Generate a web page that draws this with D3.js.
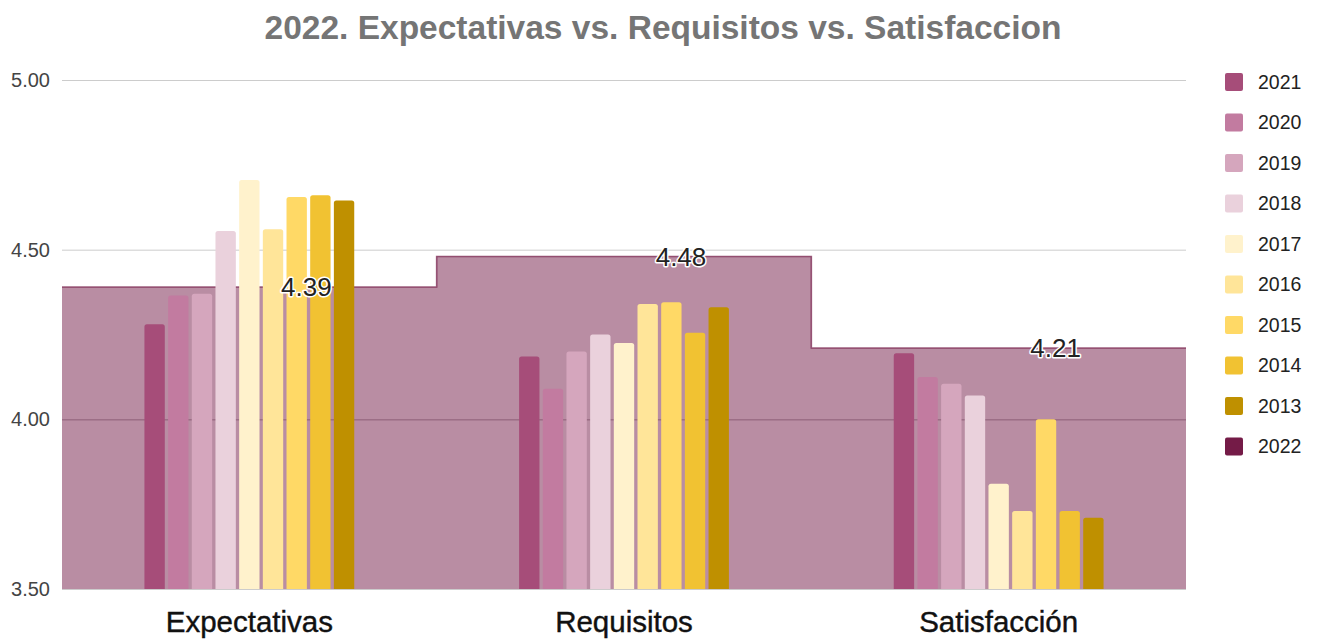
<!DOCTYPE html>
<head>
<meta charset="utf-8">
<title>2022. Expectativas vs. Requisitos vs. Satisfaccion</title>
<style>
body { margin: 0; background: #fff; }
svg { font-family: Arial, "Liberation Sans", sans-serif; }
</style>
</head>
<body>
<svg id="chart"></svg>
<script src="https://cdnjs.cloudflare.com/ajax/libs/d3/7.8.5/d3.min.js"></script>
<script>

var categories = ["Expectativas", "Requisitos", "Satisfacción"];
var years = ["2021", "2020", "2019", "2018", "2017", "2016", "2015", "2014", "2013"];
var legendYears = ["2021", "2020", "2019", "2018", "2017", "2016", "2015", "2014", "2013", "2022"];
var colors = ["#a64d79", "#c27ba0", "#d5a6bd", "#ead1dc", "#fff2cc", "#ffe599", "#ffd966", "#f1c232", "#bf9000", "#741b47"];

// one row per year, one value per category
var v2021 = [4.28, 4.185, 4.195];
var v2020 = [4.365, 4.09, 4.125];
var v2019 = [4.37, 4.20, 4.105];
var v2018 = [4.555, 4.25, 4.07];
var v2017 = [4.705, 4.225, 3.81];
var v2016 = [4.56, 4.34, 3.73];
var v2015 = [4.655, 4.345, 4.00];
var v2014 = [4.66, 4.255, 3.73];
var v2013 = [4.645, 4.33, 3.71];
var v2022 = [4.39, 4.48, 4.21];
var yTicks = [3.5, 4.0, 4.5, 5.0];

var series = [v2021, v2020, v2019, v2018, v2017, v2016, v2015, v2014, v2013];

var width = 1319, height = 641;
var margin = {top: 80, right: 133, bottom: 52, left: 62};
var innerW = width - margin.left - margin.right,
    innerH = height - margin.top - margin.bottom;

var svg = d3.select("#chart").attr("width", width).attr("height", height);

svg.append("text")
    .attr("x", 663).attr("y", 39)
    .attr("text-anchor", "middle")
    .attr("font-size", 33.5).attr("font-weight", "bold")
    .attr("fill", "#757575")
    .text("2022. Expectativas vs. Requisitos vs. Satisfaccion");

var g = svg.append("g").attr("transform", "translate(" + margin.left + "," + margin.top + ")");

var x0 = d3.scaleBand().domain(categories).range([0, innerW]).padding(0);
var y = d3.scaleLinear().domain([3.5, 5.0]).range([innerH, 0]);

var groupW = x0.bandwidth() * 0.56;
var x1 = d3.scaleBand().domain(years)
    .range([x0.bandwidth() / 2 - groupW / 2, x0.bandwidth() / 2 + groupW / 2])
    .paddingInner(0.14);

// gridlines
g.append("g").selectAll("line")
  .data(yTicks)
  .enter().append("line")
    .attr("x1", 0).attr("x2", innerW)
    .attr("y1", function(d) { return y(d) + 0.5; })
    .attr("y2", function(d) { return y(d) + 0.5; })
    .attr("stroke", "#cccccc");

// y axis labels
g.append("g").selectAll("text")
  .data(yTicks)
  .enter().append("text")
    .attr("x", -12).attr("y", function(d) { return y(d); })
    .attr("dy", "0.35em")
    .attr("text-anchor", "end")
    .attr("font-size", 20).attr("fill", "#444")
    .text(function(d) { return d3.format(".2f")(d); });

// 2022 stepped area
var stepPts = categories.map(function(c, i) { return [x0(c), v2022[i]]; });
stepPts.push([innerW, v2022[v2022.length - 1]]);

var area = d3.area()
    .curve(d3.curveStepAfter)
    .x(function(d) { return d[0]; })
    .y0(innerH)
    .y1(function(d) { return y(d[1]); });

var line = d3.line()
    .curve(d3.curveStepAfter)
    .x(function(d) { return d[0]; })
    .y(function(d) { return y(d[1]); });

g.append("path").datum(stepPts)
    .attr("d", area)
    .attr("fill", colors[9]).attr("fill-opacity", 0.5);

// grid line at 4.00 shows through the area
g.append("line")
    .attr("x1", 0).attr("x2", innerW)
    .attr("y1", y(4) + 0.5).attr("y2", y(4) + 0.5)
    .attr("stroke", "#8a5a74").attr("stroke-opacity", 0.6);

g.append("path").datum(stepPts)
    .attr("d", line)
    .attr("fill", "none")
    .attr("stroke", colors[9]).attr("stroke-opacity", 0.7)
    .attr("stroke-width", 1.6);

// bars
var groups = g.selectAll(".grp")
  .data(categories)
  .enter().append("g")
    .attr("class", "grp")
    .attr("transform", function(c) { return "translate(" + x0(c) + ",0)"; });

groups.selectAll("path")
  .data(function(c, ci) { return years.map(function(yr, si) { return {yr: yr, v: series[si][ci], si: si}; }); })
  .enter().append("path")
    .attr("fill", function(d) { return colors[d.si]; })
    .attr("d", function(d) {
      var bx = x1(d.yr), bw = x1.bandwidth(), by = y(d.v), r = 2.5;
      return "M" + bx + "," + innerH +
        "V" + (by + r) +
        "Q" + bx + "," + by + " " + (bx + r) + "," + by +
        "H" + (bx + bw - r) +
        "Q" + (bx + bw) + "," + by + " " + (bx + bw) + "," + (by + r) +
        "V" + innerH + "Z";
    });

// 2022 value labels
g.append("g").selectAll("text")
  .data(categories)
  .enter().append("text")
    .attr("x", function(c) { return x0(c) + x0.bandwidth() / 2 + 57; })
    .attr("y", function(c, i) { return y(v2022[i]); })
    .attr("dy", "0.35em")
    .attr("text-anchor", "middle")
    .attr("font-size", 26)
    .attr("fill", "#222")
    .attr("stroke", "#fff").attr("stroke-width", 3).attr("paint-order", "stroke")
    .attr("stroke-linejoin", "round")
    .text(function(c, i) { return d3.format(".2f")(v2022[i]); });

// category labels
g.append("g").selectAll("text")
  .data(categories)
  .enter().append("text")
    .attr("x", function(c) { return x0(c) + x0.bandwidth() / 2; })
    .attr("y", innerH + 43)
    .attr("text-anchor", "middle")
    .attr("font-size", 29.5)
    .attr("fill", "#111")
    .attr("stroke", "#111").attr("stroke-width", 0.4)
    .text(function(c) { return c; });

// legend
var legend = svg.append("g").attr("transform", "translate(1225,73)");
var items = legend.selectAll("g")
  .data(legendYears)
  .enter().append("g")
    .attr("transform", function(d, i) { return "translate(0," + (i * 40.5) + ")"; });

items.append("rect")
    .attr("width", 18).attr("height", 18).attr("rx", 2)
    .attr("fill", function(d, i) { return colors[i]; });

items.append("text")
    .attr("x", 33).attr("y", 9).attr("dy", "0.35em")
    .attr("font-size", 19.5).attr("fill", "#222")
    .text(function(d) { return d; });

</script>
</body>
